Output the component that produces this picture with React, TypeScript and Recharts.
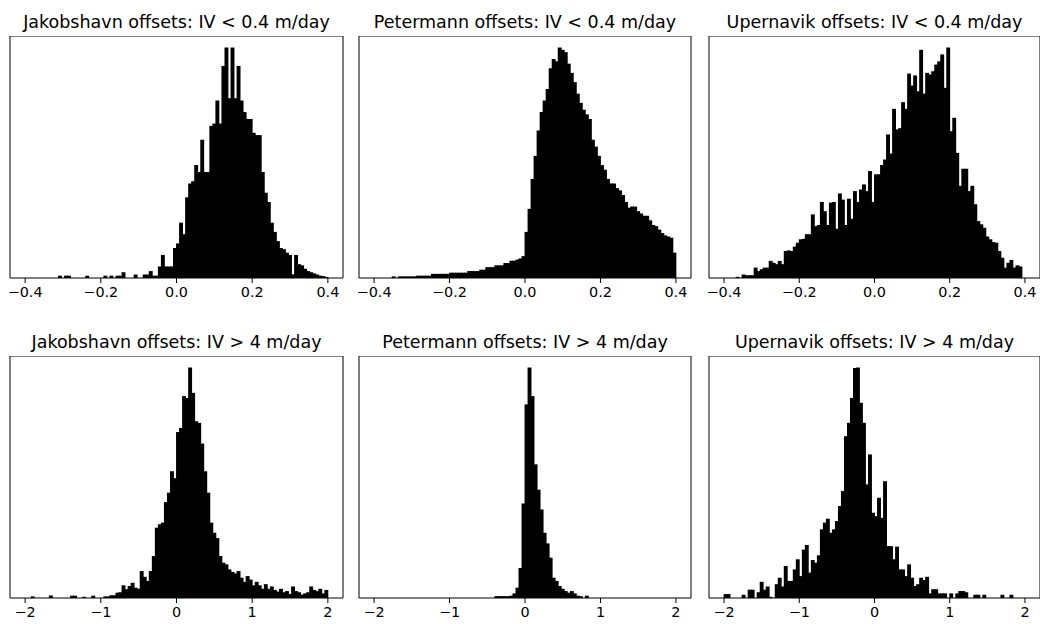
import React from 'react';
import { BarChart, Bar, XAxis, YAxis, ReferenceArea } from 'recharts';

// Tick values
const LOW_TICKS = [-0.4, -0.2, 0, 0.2, 0.4];
const HIGH_TICKS = [-2, -1, 0, 1, 2];
// Histogram ranges (100 bins each)
const LOW_RANGE: [number, number] = [-0.4, 0.4];
const HIGH_RANGE: [number, number] = [-2, 2];

// Relative bin counts (tallest bin = 100)
const jakobshavnLow = [
  0, 0, 0, 0, 0, 0, 0, 0, 0, 0,
  0, 1, 0, 1, 1, 0, 0, 0, 0, 0,
  1, 0, 0, 0, 0, 0, 1, 0, 1, 0,
  1, 1, 2.5, 0, 0, 0, 1.5, 0, 0, 1.5,
  1.5, 3, 1, 1, 5, 10, 5, 5, 5, 13,
  15, 24, 19, 35, 41, 42, 49, 46, 60, 46,
  46, 66, 67, 77, 67, 92, 100, 78, 100, 78,
  92, 77, 72, 69, 69, 63, 62, 62, 46, 37,
  33, 24, 20, 16, 13, 12.5, 11, 10, 1.6, 10,
  6, 5.5, 4, 3, 2.5, 2, 1.5, 1, 0.8, 0.5,
];

const petermannLow = [
  0, 0, 0, 0, 0, 0, 0.7, 0, 0.7, 0.7,
  0.7, 0.7, 0.7, 0.7, 1, 1, 1, 1, 1, 1.8,
  1.8, 1.8, 1.8, 1.8, 1.8, 2.3, 2.3, 2.3, 2.3, 2.3,
  2.3, 3, 3, 3, 3, 3.6, 3.6, 4.7, 4.7, 4.7,
  5.5, 5.5, 5.5, 6.5, 6.5, 7.5, 7.5, 8, 8.5, 9.5,
  20, 30, 43, 53, 64, 72, 77, 82, 91, 95,
  94, 100, 99, 98, 93, 89, 85, 80, 76, 73,
  71, 69, 60, 57, 53, 49, 47, 43, 41, 41,
  39, 38, 36, 33, 30.5, 31, 31, 29, 28, 27,
  27, 25, 23, 22.5, 21, 19.5, 18.5, 18, 17.5, 11,
];

const upernavikLow = [
  0, 0, 0, 0, 0.5, 0, 1.5, 1.2, 1.2, 1.2,
  4.5, 3, 3.8, 4.5, 4.5, 7.4, 6.6, 6, 7.4, 6,
  11.7, 12, 11.7, 13.6, 15.3, 16.8, 17, 19, 19, 27.6,
  22.5, 23, 33, 29, 23, 32.7, 33, 21.4, 36.7, 34,
  23, 34.4, 25.7, 37.7, 33, 38.4, 40.6, 37.7, 46.4, 33,
  45, 45, 49, 51.4, 62.3, 54, 73.4, 64.5, 65, 76.3,
  73.4, 88.7, 83.5, 87.9, 81, 99, 80, 89, 88.3, 89.7,
  92.6, 94, 97, 82.5, 100, 63.7, 69.5, 54.3, 40, 47.4,
  47.4, 37.7, 40, 32, 24.7, 23.3, 21.8, 18, 16.8, 15.6,
  15.3, 11.7, 8.8, 4.5, 6.6, 7.8, 4.5, 5.5, 5, 0,
];

const jakobshavnHigh = [
  0, 0, 0.7, 0, 0, 0, 0, 0, 1.1, 0,
  0, 0, 0, 0, 0, 1, 1, 0, 0, 0.5,
  0, 0, 1, 0, 0, 0, 0.7, 0.7, 1.2, 1.2,
  2.3, 2.5, 5.5, 3.8, 5.2, 6.6, 4.5, 4, 11.7, 9.2,
  7.4, 11.7, 18.2, 30.5, 32, 32.7, 41.6, 45.7, 55, 52,
  72, 73.8, 87.6, 86.8, 100, 89, 76.7, 76, 67, 55,
  45.7, 32.7, 28.3, 26, 18.2, 15.3, 14.6, 12.4, 11.3, 10.7,
  11.7, 8.8, 7, 9.5, 8, 5.5, 7, 5.5, 4, 6,
  4, 5, 3.5, 2.8, 4, 2.5, 3, 1.8, 5, 3,
  2.5, 1.5, 2, 2.5, 5, 3.5, 3, 4, 2, 3.5,
];

const petermannHigh = [
  0, 0, 0, 0, 0, 0, 0, 0, 0, 0,
  0, 0, 0, 0, 0, 0, 0, 0, 0, 0,
  0, 0, 0, 0, 0, 0, 0, 0, 0, 0,
  0, 0, 0, 0, 0, 0, 0, 0, 0, 0,
  0.8, 0.8, 0.8, 0.8, 0.8, 1, 2, 4.5, 13, 41,
  84, 100, 87.6, 58, 47, 38.4, 28.3, 23.7, 17.5, 8.8,
  7.4, 5.2, 4, 3, 2.3, 3, 2, 1, 0.8, 0,
  1, 0, 0, 0, 0, 0, 0, 0, 0, 0,
  0, 0, 0, 0, 0, 0, 0, 0, 0, 0,
  0, 0, 0, 0, 0, 0, 0, 0, 0, 0,
];

const upernavikHigh = [
  1.7, 1.7, 0, 0, 0, 0, 1.4, 0, 3.6, 3.6,
  0, 2.5, 7, 3.6, 5, 0.5, 0, 6, 8.8, 5,
  13.9, 7.4, 7.4, 12.4, 16.8, 9.5, 21, 23, 11, 16.5,
  15.3, 18.5, 29.8, 32.7, 34.4, 28.3, 29.8, 33.4, 39.9, 46.4,
  70.2, 76, 86.8, 99.8, 100, 84.7, 76, 49.3, 62.3, 37,
  35.5, 43.5, 34.8, 50.7, 22.5, 22.5, 16.8, 22.3, 12.4, 12.4,
  9.5, 14.6, 8.8, 5.2, 6, 8.8, 7.8, 9.2, 2, 3.8,
  3.8, 2, 2, 2, 0, 2, 0, 2, 3, 3,
  2.5, 0, 0, 1.4, 1.4, 0, 1.4, 0, 0, 0,
  0, 0, 1.4, 0, 0, 1.4, 0, 0, 0, 0,
];

const TITLES = [
  'Jakobshavn offsets: IV < 0.4 m/day',
  'Petermann offsets: IV < 0.4 m/day',
  'Upernavik offsets: IV < 0.4 m/day',
  'Jakobshavn offsets: IV > 4 m/day',
  'Petermann offsets: IV > 4 m/day',
  'Upernavik offsets: IV > 4 m/day',
];

const MINUS = '\u2212';
const fmtLow = (t: number) => (t < 0 ? MINUS : '') + Math.abs(t).toFixed(1);
const fmtHigh = (t: number) => (t < 0 ? MINUS : '') + String(Math.abs(t));

function toBins(values: number[], range: [number, number]) {
  const w = (range[1] - range[0]) / values.length;
  return values.map((v, i) => ({ x: range[0] + (i + 0.5) * w, v }));
}

const PLOT_H = 242;
const ML = 24;
const MR = 24;
const AXIS_H = 34;
const FONT = "'DejaVu Sans', sans-serif";

// Bar shape slightly widened so adjacent bins merge without hairline seams
const HistBar = (props: any) => {
  const { x, y, width, height } = props;
  if (!height || height <= 0) return <g />;
  return <rect x={x - 0.45} y={y} width={width + 0.9} height={height} fill="#000" />;
};

type PanelProps = {
  title: string;
  values: number[];
  range: [number, number];
  ticks: number[];
  fmt: (t: number) => string;
  left: number;
  top: number;
  width: number;
};

function Panel({ title, values, range, ticks, fmt, left, top, width }: PanelProps) {
  const pad = (range[1] - range[0]) * 0.05;
  const domain: [number, number] = [range[0] - pad, range[1] + pad];
  const data = toBins(values, range);
  const barPx = (width / (domain[1] - domain[0])) * ((range[1] - range[0]) / values.length);
  const maxV = Math.max(...values);
  const yMax = maxV * 1.05;
  return (
    <>
      <div
        style={{
          position: 'absolute',
          left: left - 40,
          width: width + 80,
          top: top - 24,
          height: 20,
          lineHeight: '20px',
          textAlign: 'center',
          fontFamily: FONT,
          fontSize: 17.5,
          color: '#000',
          whiteSpace: 'nowrap',
        }}
      >
        {title}
      </div>
      <div style={{ position: 'absolute', left: left - ML, top }}>
        <BarChart
          width={width + ML + MR}
          height={PLOT_H + AXIS_H}
          data={data}
          margin={{ top: 0, right: MR, bottom: 0, left: ML }}
          barGap={0}
          barCategoryGap={0}
          style={{ overflow: 'visible' }}
        >
          <XAxis
            type="number"
            dataKey="x"
            domain={domain}
            ticks={ticks}
            interval={0}
            allowDataOverflow
            tickFormatter={fmt}
            height={AXIS_H}
            tickSize={5}
            tickMargin={4}
            axisLine={false}
            tickLine={{ stroke: '#000', strokeWidth: 1 }}
            tick={{ fill: '#000', fontSize: 14.4, fontFamily: FONT }}
          />
          <YAxis hide type="number" domain={[0, yMax]} allowDataOverflow />
          <Bar
            dataKey="v"
            fill="#000"
            isAnimationActive={false}
            barSize={barPx * 0.995}
            shape={HistBar}
          />
          <ReferenceArea
            x1={domain[0]}
            x2={domain[1]}
            y1={0}
            y2={yMax}
            fill="none"
            fillOpacity={0}
            stroke="#000"
            strokeWidth={1}
            ifOverflow="visible"
          />
        </BarChart>
      </div>
    </>
  );
}

export default function App() {
  const lefts = [10, 359, 709];
  const widths = [333, 332, 331];
  const tops = [36, 356];
  const lows = [jakobshavnLow, petermannLow, upernavikLow];
  const highs = [jakobshavnHigh, petermannHigh, upernavikHigh];
  return (
    <div
      style={{
        position: 'absolute',
        left: 0,
        top: 0,
        width: 1040,
        height: 624,
        overflow: 'hidden',
        background: '#fff',
      }}
    >
      {lows.map((vals, i) => (
        <Panel
          key={'l' + i}
          title={TITLES[i]}
          values={vals}
          range={LOW_RANGE}
          ticks={LOW_TICKS}
          fmt={fmtLow}
          left={lefts[i]}
          top={tops[0]}
          width={widths[i]}
        />
      ))}
      {highs.map((vals, i) => (
        <Panel
          key={'h' + i}
          title={TITLES[i + 3]}
          values={vals}
          range={HIGH_RANGE}
          ticks={HIGH_TICKS}
          fmt={fmtHigh}
          left={lefts[i]}
          top={tops[1]}
          width={widths[i]}
        />
      ))}
    </div>
  );
}
